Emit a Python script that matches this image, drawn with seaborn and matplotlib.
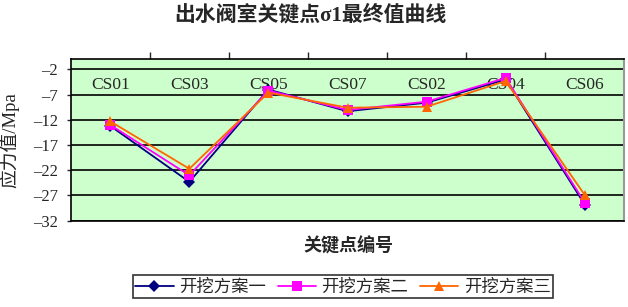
import pandas as pd
import matplotlib.pyplot as plt
import seaborn as sns

points = ["CS01", "CS03", "CS05", "CS07", "CS02", "CS04", "CS06"]
plan1 = [-13.2, -24.3, -6.0, -10.3, -8.6, -4.0, -28.8]
plan2 = [-13.0, -23.0, -6.2, -10.05, -8.4, -3.7, -28.4]
plan3 = [-12.3, -21.7, -6.6, -9.6, -9.4, -4.3, -26.9]
names = ["开挖方案一", "开挖方案二", "开挖方案三"]
yticks = [-32, -27, -22, -17, -12, -7, -2]

df = pd.DataFrame({
    "idx": list(range(len(points))) * 3,
    "value": plan1 + plan2 + plan3,
    "plan": [n for n in names for _ in points],
})

sns.set_style("white")
plt.rcParams["font.family"] = ["Liberation Serif", "Noto Sans CJK SC", "DejaVu Sans"]

fig = plt.figure(figsize=(6.28, 3.07), dpi=100)
ax = fig.add_axes([0.1126, 0.2811, 0.8815, 0.5257])
ax.set_facecolor("#CCFFCC")

palette = {names[0]: "#000080", names[1]: "#FF00FF", names[2]: "#FF6600"}
markers = {names[0]: "D", names[1]: "s", names[2]: "^"}
sns.lineplot(data=df, x="idx", y="value", hue="plan", style="plan",
             palette=palette, markers=markers, dashes=False,
             markersize=6.5, linewidth=1.3, markeredgewidth=0, ax=ax, legend=True)

ax.set_ylim(-32, 0)
ax.set_xlim(-0.5, len(points) - 0.5)
ax.set_yticks(yticks)
ax.set_yticklabels(["\u2013" + str(-v) for v in yticks], fontsize=12)
ax.yaxis.grid(True, color="black", linewidth=1.2)
ax.set_axisbelow(True)

# category axis on top, labels inside
ax.xaxis.tick_top()
ax.set_xticks([i + 0.5 for i in range(len(points) - 1)])
ax.set_xticklabels([])
ax.set_xticks(range(len(points)), minor=True)
ax.set_xticklabels(points, minor=True, fontsize=12.5)
ax.tick_params(axis="x", which="major", top=True, length=5, width=1, direction="out")
ax.tick_params(axis="x", which="minor", top=True, labeltop=True, length=0, pad=-24)
ax.tick_params(axis="y", length=3, width=1, direction="out", left=True, pad=6)

for s in ["left", "top", "bottom"]:
    ax.spines[s].set_color("black")
    ax.spines[s].set_linewidth(1.2)
ax.spines["right"].set_color("#999999")
ax.spines["right"].set_linewidth(1.5)

ax.set_xlabel("")
ax.set_ylabel("应力值/Mpa", fontsize=13.5)
ax.yaxis.set_label_coords(-0.093, 0.5)
fig.text(0.555, 0.2, "关键点编号", ha="center", va="center", fontsize=13,
         fontweight="bold", family=["Noto Sans CJK SC", "DejaVu Sans"])
fig.text(0.495, 0.95, "出水阀室关键点σ1最终值曲线", ha="center", va="center",
         fontsize=15, fontweight="bold")

handles, labels = ax.get_legend_handles_labels()
ax.get_legend().remove()
leg = fig.legend(handles, labels, loc="lower center", bbox_to_anchor=(0.546, 0.0),
                 ncol=3, prop={"family": ["Noto Sans CJK SC"], "size": 12.5},
                 frameon=True, fancybox=False, edgecolor="black",
                 handlelength=2.2, columnspacing=0.7, handletextpad=0.3,
                 borderpad=0.15)
leg.get_frame().set_linewidth(1.2)

fig.savefig("out.png", dpi=100)
